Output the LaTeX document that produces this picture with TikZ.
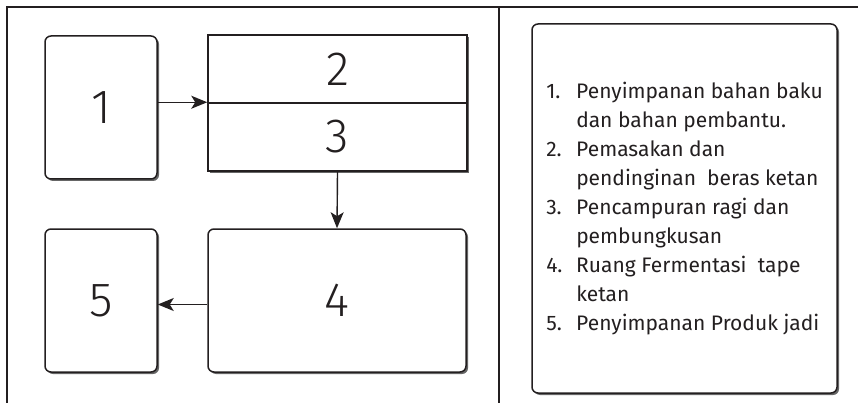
\documentclass[tikz,border=0pt]{standalone}
\usepackage{fontspec}
\setmainfont{Fira Sans}
\newfontfamily\numfont{Fira Sans Light}
\usepackage{tikz}
\definecolor{ink}{RGB}{35,31,32}
\usetikzlibrary{arrows.meta,shadows}

\begin{document}
\begin{tikzpicture}[x=1pt,y=-1pt,
    room/.style={draw=ink,line width=1.5pt,fill=white,rounded corners=6pt,
        drop shadow={shadow xshift=2pt,shadow yshift=-2pt,opacity=0.6,fill=black},
        inner sep=0pt,font=\numfont\fontsize{48}{48}\selectfont,text=ink},
    flow/.style={draw=ink,line width=1.4pt,-{Stealth[length=16pt,width=13pt,inset=4pt]}}]
    \useasboundingbox (0,0) rectangle (858,403);
    % frame - top, left and middle lines
    \draw[ink,line width=2.4pt] (7,403) -- (7,7) -- (858,7);
    \draw[ink,line width=1.7pt] (499,7) -- (499,403);
    % rooms of the plan
    \node[room,minimum width=112pt,minimum height=143pt] (box1) at (101,107.5) {1};
    \node[room,rounded corners=0pt,minimum width=259pt,minimum height=68pt] (box2) at (337.5,69) {2};
    \node[room,rounded corners=0pt,minimum width=259pt,minimum height=68pt] (box3) at (337.5,137) {3};
    \node[room,minimum width=258pt,minimum height=143pt] (box4) at (337,300.5) {4};
    \node[room,minimum width=112pt,minimum height=143pt] (box5) at (101,300.5) {5};
    % flow between rooms
    \draw[flow] (box1.east |- box3.north west) -- (box3.north west);
    \draw[flow] (box3.south) -- (box4.north);
    \draw[flow] ([yshift=-4pt]box4.west) -- ([yshift=-4pt]box5.east);
    % legend
    \node[room,font=\fontsize{21}{29}\selectfont,minimum width=305pt,minimum height=369pt] (legend) at (684.5,208.5) {%
        \begin{tabular}{@{}p{30pt}@{}l@{}}
        1. & Penyimpanan bahan baku\\
           & dan bahan pembantu.\\
        2. & Pemasakan dan\\
           & pendinginan\ \ beras ketan\\
        3. & Pencampuran ragi dan\\
           & pembungkusan\\
        4. & Ruang Fermentasi\ \ tape\\
           & ketan\\
        5. & Penyimpanan Produk jadi
        \end{tabular}};
\end{tikzpicture}
\end{document}
